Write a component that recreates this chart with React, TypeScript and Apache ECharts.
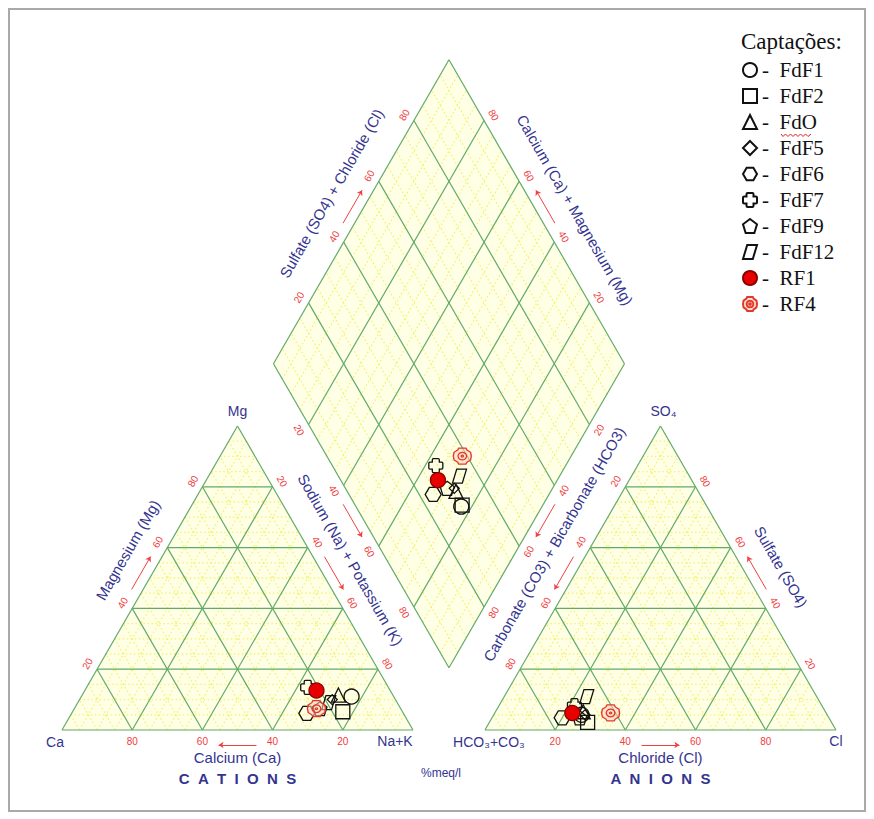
import React, { useEffect, useRef } from "react";
import * as echarts from "echarts";

// ---------------- data ----------------
const samples = ["FdF1", "FdF2", "FdO", "FdF5", "FdF6", "FdF7", "FdF9", "FdF12", "RF1", "RF4"];
// cations (% meq/l)
const caPct = [12, 17, 15.5, 18, 27.5, 23, 23, 19.5, 21, 24];
const mgPct = [11, 6, 11.5, 10, 5.5, 14, 7, 9, 13, 7];
const naKPct = [77, 77, 73, 72, 67, 63, 70, 71.5, 66, 69];
// anions (% meq/l)
const hco3Pct = [70, 69.5, 69, 69, 76, 70.5, 71, 65.5, 72.3, 61.4];
const so4Pct = [5, 2.5, 6, 5, 4, 8, 4, 11, 5.6, 5.6];
const clPct = [25, 28, 25, 26, 20, 21.5, 25, 23.5, 22.1, 33];
const tickValues = [20, 40, 60, 80];

// ---------------- geometry (units: triangle side = 100) ----------------
const GAP = 20.5;
const SQ = Math.sqrt(3) / 2;
const K = 3.51; // px per unit
const ORIGIN_X = 62;
const ORIGIN_Y = 730;
const W = 874;
const H = 819;
const X0 = -ORIGIN_X / K;
const X1 = X0 + W / K;
const Y0 = -(H - ORIGIN_Y) / K;
const Y1 = ORIGIN_Y / K;

type P = [number, number];
const CA: P = [0, 0];
const NA: P = [100, 0];
const MG: P = [50, 100 * SQ];
const HC: P = [100 + GAP, 0];
const CLV: P = [200 + GAP, 0];
const SO: P = [150 + GAP, 100 * SQ];
const DB: P = [100 + GAP / 2, GAP * SQ];
const LF: P = [DB[0] - 50, DB[1] + 100 * SQ];
const RT: P = [DB[0] + 50, DB[1] + 100 * SQ];
const TP: P = [DB[0], DB[1] + 200 * SQ];

const lerp = (a: P, b: P, f: number): P => [a[0] + (b[0] - a[0]) * f, a[1] + (b[1] - a[1]) * f];
const offPx = (p: P, dx: number, dy: number): P => [p[0] + dx / K, p[1] - dy / K];

const cationPt = (ca: number, mg: number, na: number): P => [na + mg / 2, mg * SQ];
const anionPt = (hco3: number, so4: number, cl: number): P => [HC[0] + cl + so4 / 2, so4 * SQ];
const diamondPt = (na: number, so4cl: number): P => {
  const caMg = 100 - na;
  return [DB[0] + 0.5 * (so4cl - caMg), DB[1] + SQ * (caMg + so4cl)];
};

// ---------------- grid segments ----------------
const minorValues: number[] = [];
for (let v = 5; v < 100; v += 5) if (v % 20 !== 0) minorValues.push(v);

function triSegs(A: P, B: P, C: P, vals: number[]): [P, P][] {
  const out: [P, P][] = [];
  vals.forEach((v) => {
    const f = v / 100;
    out.push([lerp(A, C, f), lerp(B, C, f)]);
    out.push([lerp(A, B, f), lerp(C, B, f)]);
    out.push([lerp(A, B, f), lerp(A, C, f)]);
  });
  return out;
}
function diaSegs(vals: number[]): [P, P][] {
  const out: [P, P][] = [];
  vals.forEach((v) => {
    const f = v / 100;
    out.push([lerp(DB, LF, f), lerp(RT, TP, f)]);
    out.push([lerp(DB, RT, f), lerp(LF, TP, f)]);
  });
  return out;
}
const outlineSegs: [P, P][] = [
  [CA, NA], [NA, MG], [MG, CA],
  [HC, CLV], [CLV, SO], [SO, HC],
  [DB, RT], [RT, TP], [TP, LF], [LF, DB],
];
const minorSegs = [...triSegs(CA, NA, MG, minorValues), ...triSegs(HC, CLV, SO, minorValues), ...diaSegs(minorValues)];
const majorSegs = [...triSegs(CA, NA, MG, tickValues), ...triSegs(HC, CLV, SO, tickValues), ...diaSegs(tickValues), ...outlineSegs];
const fills: P[][] = [[CA, NA, MG], [HC, CLV, SO], [DB, RT, TP, LF]];

// ---------------- edges: tick labels, arrows, titles ----------------
const C30 = SQ;
type Edge = { S: P; E: P; v0: number; v1: number; n: P; rot: number; arrOff: number };
const edges: Edge[] = [
  { S: CA, E: NA, v0: 100, v1: 0, n: [0, 1], rot: 0, arrOff: 15 },
  { S: CA, E: MG, v0: 0, v1: 100, n: [-C30, -0.5], rot: 60, arrOff: 10 },
  { S: NA, E: MG, v0: 100, v1: 0, n: [C30, -0.5], rot: -60, arrOff: 10 },
  { S: HC, E: CLV, v0: 0, v1: 100, n: [0, 1], rot: 0, arrOff: 15 },
  { S: HC, E: SO, v0: 100, v1: 0, n: [-C30, -0.5], rot: 60, arrOff: 10 },
  { S: CLV, E: SO, v0: 0, v1: 100, n: [C30, -0.5], rot: -60, arrOff: 10 },
  { S: LF, E: TP, v0: 0, v1: 100, n: [-C30, -0.5], rot: 60, arrOff: 10 },
  { S: RT, E: TP, v0: 0, v1: 100, n: [C30, -0.5], rot: -60, arrOff: 10 },
  { S: LF, E: DB, v0: 0, v1: 100, n: [-C30, 0.5], rot: -60, arrOff: 10 },
  { S: DB, E: RT, v0: 100, v1: 0, n: [C30, 0.5], rot: 60, arrOff: 10 },
];
const edgePoint = (e: Edge, v: number, d: number): P => {
  const p = lerp(e.S, e.E, (v - e.v0) / (e.v1 - e.v0));
  return offPx(p, e.n[0] * d, e.n[1] * d);
};

type TextItem = { p: P; t: string; rot: number; color: string; size: number; weight?: string; family?: string };
const RED = "#f03c3c";
const BLUE = "#34348f";
const SANS = "Liberation Sans, Arial, sans-serif";
const texts: TextItem[] = [];
edges.forEach((e) => {
  tickValues.forEach((v) => {
    texts.push({ p: edgePoint(e, v, 11), t: String(v), rot: e.rot, color: RED, size: 10 });
  });
});

const titles: { edge: number; f: number; off: number; t: string }[] = [
  { edge: 1, f: 0.538, off: 33, t: "Magnesium (Mg)" },
  { edge: 2, f: 0.509, off: 31, t: "Sodium (Na) + Potassium (K)" },
  { edge: 4, f: 0.557, off: 33, t: "Carbonate (CO3) + Bicarbonate (HCO3)" },
  { edge: 5, f: 0.481, off: 34, t: "Sulfate (SO4)" },
  { edge: 6, f: 0.503, off: 35, t: "Sulfate (SO4) + Chloride (Cl)" },
  { edge: 7, f: 0.45, off: 34, t: "Calcium (Ca) + Magnesium (Mg)" },
];
const TITLE_SIZE = 15;
titles.forEach((ti) => {
  const e = edges[ti.edge];
  const p = lerp(e.S, e.E, ti.f);
  texts.push({ p: offPx(p, e.n[0] * ti.off, e.n[1] * ti.off), t: ti.t, rot: e.rot, color: BLUE, size: TITLE_SIZE });
});
const cMid = lerp(CA, NA, 0.5);
const aMid = lerp(HC, CLV, 0.5);
texts.push({ p: offPx(cMid, 0, 27), t: "Calcium (Ca)", rot: 0, color: BLUE, size: TITLE_SIZE });
texts.push({ p: offPx(aMid, 0, 27), t: "Chloride (Cl)", rot: 0, color: BLUE, size: TITLE_SIZE });
const sp = "\u00a0\u00a0";
texts.push({ p: offPx(cMid, 0, 48), t: ["C", "A", "T", "I", "O", "N", "S"].join(sp), rot: 0, color: BLUE, size: 15, weight: "bold" });
texts.push({ p: offPx(aMid, 0, 48), t: ["A", "N", "I", "O", "N", "S"].join(sp), rot: 0, color: BLUE, size: 15, weight: "bold" });
texts.push({ p: offPx(MG, 0, -15), t: "Mg", rot: 0, color: BLUE, size: 14 });
texts.push({ p: offPx(CA, -7, 12), t: "Ca", rot: 0, color: BLUE, size: 14 });
texts.push({ p: offPx(NA, -18, 11), t: "Na+K", rot: 0, color: BLUE, size: 14 });
texts.push({ p: offPx(HC, 4, 12), t: "HCO\u2083+CO\u2083", rot: 0, color: BLUE, size: 14 });
texts.push({ p: offPx(CLV, 0, 11), t: "Cl", rot: 0, color: BLUE, size: 14 });
texts.push({ p: offPx(SO, 3, -15), t: "SO\u2084", rot: 0, color: BLUE, size: 14 });
texts.push({ p: offPx([DB[0], 0], -8, 43), t: "%meq/l", rot: 0, color: BLUE, size: 12 });

const arrows = edges.map((e) => ({ coords: [edgePoint(e, 44.6, e.arrOff), edgePoint(e, 55.4, e.arrOff)] }));

// ---------------- symbols ----------------
const HEX = "path://M0,5 L2.6,0.5 L7.4,0.5 L10,5 L7.4,9.5 L2.6,9.5 Z";
const CROSS =
  "path://M3.3,0 H6.7 Q7.5,0 7.5,0.8 V2.5 H9.2 Q10,2.5 10,3.3 V6.7 Q10,7.5 9.2,7.5 H7.5 V9.2 Q7.5,10 6.7,10 H3.3 Q2.5,10 2.5,9.2 V7.5 H0.8 Q0,7.5 0,6.7 V3.3 Q0,2.5 0.8,2.5 H2.5 V0.8 Q2.5,0 3.3,0 Z";
const PENT = "path://M5,0 L10,3.8 L8.1,10 L1.9,10 L0,3.8 Z";
const PARA = "path://M3,0 L10,0 L7,10 L0,10 Z";
const SUN =
  "path://M3,0 H7 L7.6,1.2 L9.6,2.6 L10,5 L9.6,7.4 L7.6,8.8 L7,10 H3 L2.4,8.8 L0.4,7.4 L0,5 L0.4,2.6 L2.4,1.2 Z M5,2.6 A2.4,2.4 0 1 1 4.99,2.6 Z M5,4.4 A0.6,0.6 0 1 1 4.99,4.4 Z";
const symbols = ["circle", "rect", "triangle", "diamond", HEX, CROSS, PENT, PARA, "circle", SUN];
const symbolSizes: (number | number[])[] = [15, 14, 14, 10, [16, 14], 14, 14, [14, 14], 15, [18, 16]];
const fillColors = ["rgba(0,0,0,0)", "rgba(0,0,0,0)", "rgba(0,0,0,0)", "rgba(0,0,0,0)", "rgba(0,0,0,0)", "rgba(0,0,0,0)", "rgba(0,0,0,0)", "rgba(0,0,0,0)", "#e80000", "rgba(255,205,185,0.55)"];
const borderColors = ["#111", "#111", "#111", "#111", "#111", "#111", "#111", "#111", "#8a0000", "#e23a2a"];

// ---------------- option ----------------
function buildOption(): any {
  const segSeries = (segs: [P, P][], id: string, style: any, z: number) => ({
    type: "custom",
    id,
    coordinateSystem: "cartesian2d",
    silent: true,
    z,
    data: segs.map((s) => [s[0][0], s[0][1]]),
    encode: { x: 0, y: 1 },
    renderItem: (params: any, api: any) => {
      const s = segs[params.dataIndex];
      const a = api.coord(s[0]);
      const b = api.coord(s[1]);
      return { type: "line", shape: { x1: a[0], y1: a[1], x2: b[0], y2: b[1] }, style };
    },
  });

  const sampleSeries = samples.map((name, i) => ({
    type: "scatter",
    name,
    z: 6,
    symbol: symbols[i],
    symbolSize: symbolSizes[i],
    itemStyle: { color: fillColors[i], borderColor: borderColors[i], borderWidth: 1.3, opacity: 1 },
    data: [
      cationPt(caPct[i], mgPct[i], naKPct[i]),
      anionPt(hco3Pct[i], so4Pct[i], clPct[i]),
      diamondPt(naKPct[i], so4Pct[i] + clPct[i]),
    ],
  }));

  return {
    animation: false,
    backgroundColor: "#ffffff",
    grid: { left: 0, right: 0, top: 0, bottom: 0 },
    xAxis: { type: "value", min: X0, max: X1, show: false },
    yAxis: { type: "value", min: Y0, max: Y1, show: false },
    title: {
      text: "Captações:",
      left: 741,
      top: 30,
      padding: 0,
      textStyle: { fontFamily: "Liberation Serif, serif", fontSize: 23, fontWeight: "normal", color: "#111" },
    },
    legend: {
      data: samples,
      orient: "vertical",
      left: 742,
      top: 59,
      padding: 0,
      itemWidth: 14,
      itemHeight: 14,
      itemGap: 4,
      selectedMode: false,
      formatter: "- \u00a0{name}",
      textStyle: { fontFamily: "Liberation Serif, serif", fontSize: 21, color: "#111", lineHeight: 22 },
    },
    graphic: [
      { type: "rect", shape: { x: 9, y: 9, width: 856, height: 802 }, style: { fill: "none", stroke: "#a9a9a9", lineWidth: 2 }, z: 0 },
      {
        type: "polyline",
        shape: { points: [[781, 134], [783, 136.5], [785.5, 134], [788, 136.5], [790.5, 134], [793, 136.5], [795.5, 134], [798, 136.5], [800.5, 134], [803, 136.5], [805.5, 134], [808, 136.5], [811, 134]] },
        style: { stroke: "#e02020", lineWidth: 1, fill: "none" },
        z: 100,
      },
    ],
    series: [
      {
        type: "custom",
        id: "fills",
        coordinateSystem: "cartesian2d",
        silent: true,
        z: 1,
        data: fills.map((f) => [f[0][0], f[0][1]]),
        encode: { x: 0, y: 1 },
        renderItem: (params: any, api: any) => ({
          type: "polygon",
          shape: { points: fills[params.dataIndex].map((p) => api.coord(p)) },
          style: { fill: "#ffffe6" },
        }),
      },
      segSeries(minorSegs, "minor", { stroke: "#f2f270", lineWidth: 1.3, lineDash: [1.5, 2.5] }, 2),
      segSeries(majorSegs, "major", { stroke: "#62aa68", lineWidth: 1.2 }, 3),
      {
        type: "custom",
        id: "texts",
        coordinateSystem: "cartesian2d",
        silent: true,
        z: 4,
        data: texts.map((t) => t.p),
        encode: { x: 0, y: 1 },
        renderItem: (params: any, api: any) => {
          const t = texts[params.dataIndex];
          const c = api.coord(t.p);
          return {
            type: "text",
            x: c[0],
            y: c[1],
            rotation: (t.rot * Math.PI) / 180,
            style: {
              text: t.t,
              fill: t.color,
              fontSize: t.size,
              fontFamily: t.family || SANS,
              fontWeight: t.weight || "normal",
              align: "center",
              verticalAlign: "middle",
            },
          };
        },
      },
      {
        type: "lines",
        id: "arrows",
        coordinateSystem: "cartesian2d",
        silent: true,
        z: 4,
        symbol: ["none", "arrow"],
        symbolSize: 5,
        lineStyle: { color: "#f04040", width: 1, opacity: 1 },
        data: arrows,
      },
      ...sampleSeries,
    ],
  };
}

export default function App() {
  const ref = useRef<HTMLDivElement>(null);
  useEffect(() => {
    document.body.style.margin = "0";
    document.body.style.overflow = "hidden";
    const chart = echarts.init(ref.current as HTMLDivElement, null, { renderer: "svg" });
    chart.setOption(buildOption());
    return () => chart.dispose();
  }, []);
  return <div ref={ref} style={{ width: W, height: H }} />;
}
